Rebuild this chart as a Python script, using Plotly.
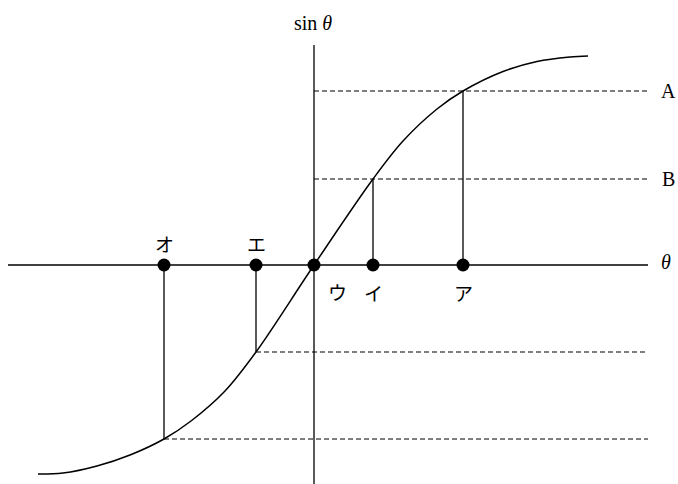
import plotly.graph_objects as go

# curve (units: 1 = 100 px)
curve_x = [-2.76, -2.51, -2.17, -1.84, -1.50, -1.23, -0.89, -0.58, 0.0,
           0.59, 0.89, 1.23, 1.49, 1.89, 2.23, 2.56, 2.74]
curve_y = [-2.09, -2.08, -2.01, -1.90, -1.74, -1.56, -1.26, -0.87, 0.0,
           0.86, 1.24, 1.56, 1.74, 1.935, 2.035, 2.08, 2.09]

# marked points on the theta axis and the level each one reaches on the curve
point_labels = ['オ', 'エ', 'ウ', 'イ', 'ア']
point_x = [-1.50, -0.58, 0.0, 0.59, 1.49]
point_level = [-1.74, -0.87, 0.0, 0.86, 1.74]

level_labels = ['A', 'B']
level_values = [1.74, 0.86]

X_MIN, X_MAX = -3.14, 3.64
Y_MIN, Y_MAX = -2.19, 2.65
X_END = 3.34  # right end of axis and dashed lines
SERIF = 'Liberation Serif, Times New Roman, serif'
JP = 'Noto Sans CJK JP'

fig = go.Figure()

# axes
fig.add_trace(go.Scatter(x=[-3.06, X_END], y=[0, 0], mode='lines',
                         line=dict(color='black', width=1.3), hoverinfo='skip'))
fig.add_trace(go.Scatter(x=[0, 0], y=[Y_MIN, 2.20], mode='lines',
                         line=dict(color='black', width=1.3), hoverinfo='skip'))

# dashed level lines
for xi, lv in zip(point_x, point_level):
    if lv == 0:
        continue
    fig.add_trace(go.Scatter(x=[min(xi, 0), X_END], y=[lv, lv], mode='lines',
                             line=dict(color='black', width=1.2, dash='5px,3px'),
                             hoverinfo='skip'))
    # vertical drop from the axis to the curve
    fig.add_trace(go.Scatter(x=[xi, xi], y=[0, lv], mode='lines',
                             line=dict(color='black', width=1.3), hoverinfo='skip'))

# the curve
fig.add_trace(go.Scatter(x=curve_x, y=curve_y, mode='lines',
                         line=dict(color='black', width=1.5, shape='spline'),
                         hoverinfo='skip'))

# points on the theta axis
fig.add_trace(go.Scatter(x=point_x, y=[0] * len(point_x), mode='markers',
                         marker=dict(color='black', size=13), hoverinfo='skip'))

# katakana labels: オ, エ above the axis; ウ, イ, ア below
label_offsets = {'オ': (0, 0.22), 'エ': (0, 0.22), 'ウ': (0.23, -0.26),
                 'イ': (0, -0.27), 'ア': (0, -0.27)}
for lab, xi in zip(point_labels, point_x):
    dx, dy = label_offsets[lab]
    fig.add_annotation(x=xi + dx, y=dy, text=lab, showarrow=False,
                       font=dict(family=JP, size=19, color='black'))

for lab, lv in zip(level_labels, level_values):
    fig.add_annotation(x=3.54, y=lv, text=lab, showarrow=False,
                       font=dict(family=SERIF, size=20, color='black'))

fig.add_annotation(x=3.52, y=0.03, text='<i>θ</i>', showarrow=False,
                   font=dict(family=SERIF, size=20, color='black'))
fig.add_annotation(x=-0.01, y=2.42, text='sin <i>θ</i>', showarrow=False,
                   font=dict(family=SERIF, size=20, color='black'))

fig.update_xaxes(range=[X_MIN, X_MAX], visible=False)
fig.update_yaxes(range=[Y_MIN, Y_MAX], visible=False)
fig.update_layout(width=678, height=484, margin=dict(l=0, r=0, t=0, b=0),
                  plot_bgcolor='white', paper_bgcolor='white', showlegend=False)

# drop the page's default body margin so the figure sits at the window corner
fig.write_html('out.html', config={'displayModeBar': False},
               post_script="document.body.style.margin='0';")
